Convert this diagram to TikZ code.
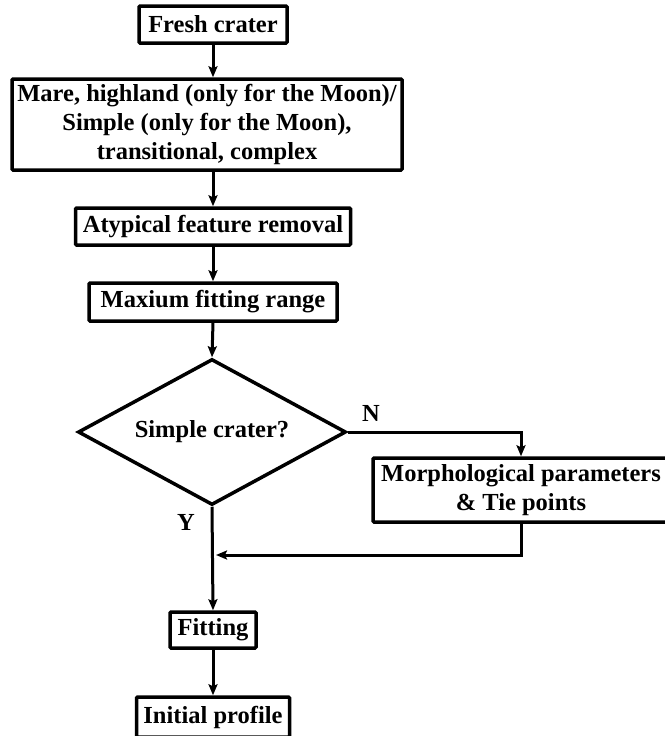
\documentclass[tikz,border=0pt]{standalone}
\usepackage{fontspec}
\setmainfont{Liberation Serif}
\usetikzlibrary{shapes.geometric,arrows.meta}

\newlength{\du}
\setlength{\du}{1pt}
\definecolor{dialinecolor}{rgb}{0.000000, 0.000000, 0.000000}

\tikzset{
  flowbox/.style={draw=dialinecolor, line width=3.5\du, rounded corners=1\du,
    inner sep=0pt, align=center, font=\fontsize{24.5}{29}\selectfont\bfseries},
  decide/.style={diamond, aspect=1.84, draw=dialinecolor, line width=3.5\du, inner sep=0pt,
    font=\fontsize{24.5}{29}\selectfont\bfseries},
  flowline/.style={draw=dialinecolor, line width=3\du},
  flowarrow/.style={flowline, -{Stealth[length=11pt,width=9pt,inset=2pt]}},
  branchlabel/.style={font=\fontsize{24.5}{29}\selectfont\bfseries}
}

\begin{document}
\begin{tikzpicture}
\pgftransformxscale{1.000000}
\pgftransformyscale{-1.000000}
\useasboundingbox (0\du,0\du) rectangle (664\du,736\du);
% boxes
\node[flowbox, minimum width=148\du, minimum height=37\du] (fresh) at (213\du,24.5\du) {Fresh crater};
\node[flowbox, minimum width=390\du, minimum height=91\du] (mare) at (207\du,124.5\du)
  {Mare, highland (only for the Moon)/\\Simple (only for the Moon),\\transitional, complex};
\node[flowbox, minimum width=275\du, minimum height=37\du] (atypical) at (213\du,226.5\du) {Atypical feature removal};
\node[flowbox, minimum width=248\du, minimum height=38\du] (maxfit) at (213\du,302\du) {Maxium fitting range};
\node[decide, minimum width=268\du, minimum height=146\du] (simple) at (212\du,432\du) {Simple crater?};
\node[flowbox, minimum width=296\du, minimum height=64\du] (morph) at (521\du,490\du)
  {Morphological parameters\\\& Tie points};
\node[flowbox, minimum width=86\du, minimum height=36\du] (fit) at (213\du,630\du) {Fitting};
\node[flowbox, minimum width=153\du, minimum height=40\du] (init) at (213\du,717\du) {Initial profile};
\coordinate (merge) at (216\du,555\du);
% labels
\node[branchlabel] (nlab) at (371\du,413\du) {N};
\node[branchlabel] (ylab) at (186\du,522\du) {Y};
% connectors
\draw[flowarrow] (fresh.south) -- (fresh.south |- mare.north);
\draw[flowarrow] (mare.south -| atypical.north) -- (atypical.north);
\draw[flowarrow] (atypical.south) -- (maxfit.north);
\draw[flowarrow] (maxfit.south) -- (simple.north);
\draw[flowarrow] (simple.east) -| (morph.north);
\draw[flowarrow] (morph.south) |- (merge);
\draw[flowarrow] (simple.south) -- (fit.north);
\draw[flowarrow] (fit.south) -- (init.north);
\end{tikzpicture}
\end{document}
